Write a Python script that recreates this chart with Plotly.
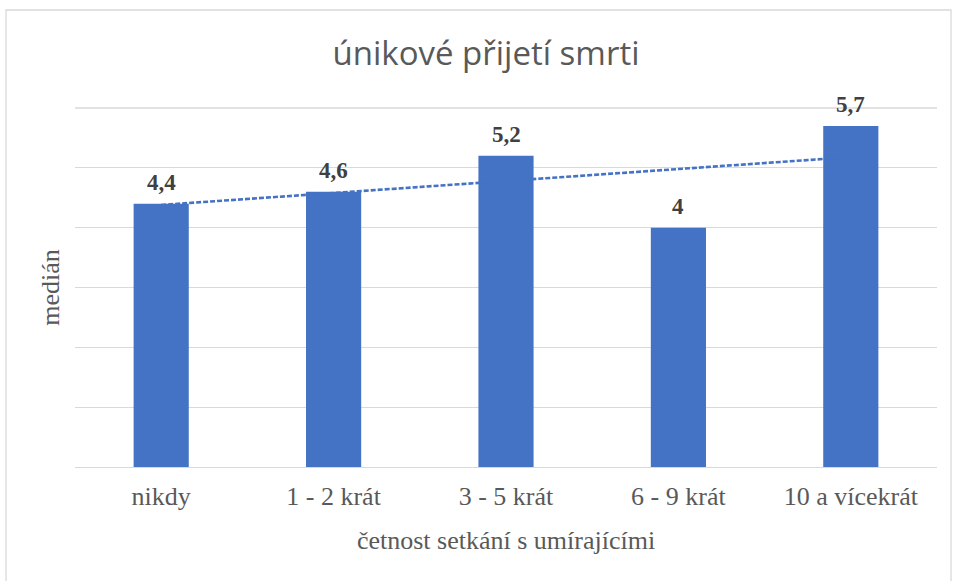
import plotly.graph_objects as go
import numpy as np

categories = ["nikdy", "1 - 2 krát", "3 - 5 krát", "6 - 9 krát", "10 a vícekrát"]
values = [4.4, 4.6, 5.2, 4.0, 5.7]
labels = ["4,4", "4,6", "5,2", "4", "5,7"]

# linear trendline (like Excel's)
xi = np.arange(1, len(values) + 1)
slope, intercept = np.polyfit(xi, values, 1)
trend = [slope * x + intercept for x in xi]

serif = "Liberation Serif, Times New Roman, serif"

fig = go.Figure()
fig.add_trace(go.Bar(
    x=categories, y=values, width=0.32,
    marker=dict(color="#4472C4", line=dict(width=0)),
    hoverinfo="skip",
))
fig.add_trace(go.Scatter(
    x=categories, y=trend, mode="lines",
    line=dict(color="#4472C4", width=2.6, dash="5px,2px"),
    hoverinfo="skip",
))

annotations = [
    dict(x=c, y=v, text=f"<b>{t}</b>", showarrow=False, xref="x", yref="y",
         yanchor="bottom", yshift=7,
         font=dict(family=serif, size=23, color="#404040"))
    for c, v, t in zip(categories, values, labels)
]

fig.update_layout(
    width=953, height=581,
    margin=dict(l=75, r=16, t=108, b=114),
    paper_bgcolor="white", plot_bgcolor="white",
    showlegend=False,
    title=dict(text="únikové přijetí smrti", x=486/953, xanchor="center",
               y=1 - 53/581, yanchor="middle",
               font=dict(family="Open Sans, sans-serif", size=33, color="#595959")),
    xaxis=dict(
        showgrid=False, showline=False, ticks="",
        ticklabelstandoff=11,
        tickfont=dict(family=serif, size=26, color="#595959"),
        title=dict(text="četnost setkání s umírajícími", standoff=20,
                   font=dict(family=serif, size=26, color="#595959")),
    ),
    yaxis=dict(
        range=[0, 6], dtick=1, showticklabels=False,
        showgrid=True, gridcolor="#D9D9D9", gridwidth=1.3,
        zeroline=True, zerolinecolor="#D9D9D9", zerolinewidth=1.3,
        title=dict(text="medián", standoff=6,
                   font=dict(family=serif, size=26, color="#595959")),
    ),
    annotations=annotations,
    shapes=[dict(type="rect", xref="paper", yref="paper",
                 x0=(6 - 75) / 862, x1=(951 - 75) / 862,
                 y0=-0.4, y1=1 + 98 / 359,
                 line=dict(color="#D9D9D9", width=1.3), layer="below"),
            dict(type="line", xref="paper", yref="paper", x0=0, x1=1, y0=1, y1=1,
                 line=dict(color="#D9D9D9", width=1.3), layer="below")],
)

fig.write_html("out.html", config={"displayModeBar": False},
               post_script="document.body.style.margin='0';")
